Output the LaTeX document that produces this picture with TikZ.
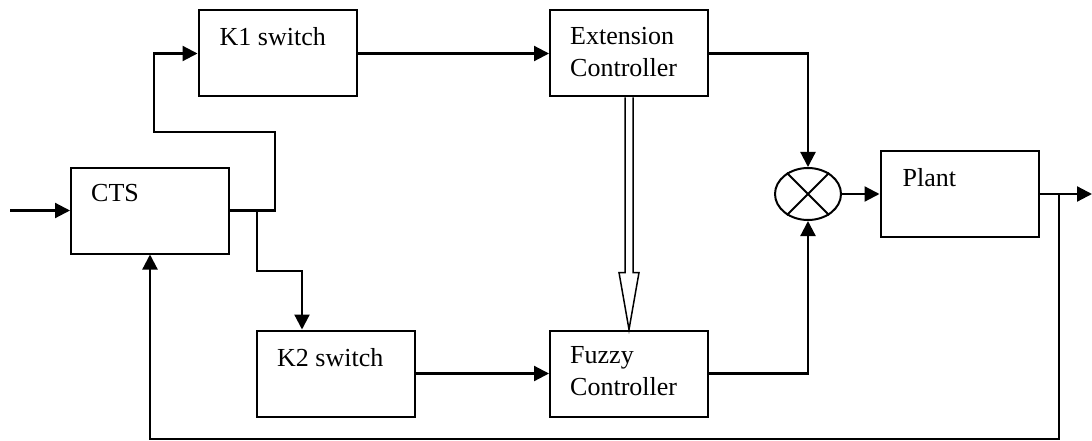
\documentclass[tikz,border=0pt]{standalone}
\usepackage{fontspec}
\setmainfont{Liberation Serif}
\usetikzlibrary{arrows.meta,calc,shapes.geometric}

\tikzset{
  blk/.style={draw, line width=2pt, minimum width=158pt, minimum height=86pt, inner sep=0pt},
  lbl/.style={anchor=base west, inner sep=0pt, align=left, font=\fontsize{26}{32}\selectfont},
  wire/.style={line width=2.2pt},
  flow/.style={wire, -{Triangle[length=15pt,width=15pt]}},
}

\begin{document}
\begin{tikzpicture}[x=1pt,y=-1pt]
  \useasboundingbox (0,0) rectangle (1092,441);

  % blocks
  \node[blk] (cts)   at (150,210.5) {};
  \node[blk] (k1)    at (277.5,53.5) {};
  \node[blk] (ext)   at (629,53.5) {};
  \node[blk] (k2)    at (336,373.5) {};
  \node[blk] (fz)    at (629,373.5) {};
  \node[blk] (plant) at (959.5,194) {};
  \node[draw, ellipse, line width=2pt, minimum width=66pt, minimum height=52pt, inner sep=0pt] (sum) at (808,194) {};
  \draw[line width=2pt] (sum.45) -- (sum.225) (sum.135) -- (sum.315);

  % block labels (base anchor sits on the last line)
  \node[lbl] at ($(cts.north west)+(21,35)$) {CTS};
  \node[lbl] at ($(k1.north west)+(22,36)$) {K1 switch};
  \node[lbl] at ($(ext.north west)+(21,67)$) {Extension\\Controller};
  \node[lbl] at ($(k2.north west)+(21,37)$) {K2 switch};
  \node[lbl] at ($(fz.north west)+(21,66)$) {Fuzzy\\Controller};
  \node[lbl] at ($(plant.north west)+(23,36)$) {Plant};

  % helper points
  \coordinate (inp) at (10,210.5);
  \coordinate (up1) at (275,132);
  \coordinate (up0) at (154,132);
  \coordinate (br0) at (257,210.5);
  \coordinate (br1) at (302,271);
  \coordinate (out) at (1092,194);
  \coordinate (fb0) at (1059,194);
  \coordinate (fb1) at (1059,439);

  % signal flow
  \draw[flow] (inp) -- (cts.west);
  \draw[flow] (cts.east) -| (up1) -- (up0) |- (k1.west);
  \draw[flow] (br0) |- (br1) -- (br1 |- k2.north);
  \draw[flow] (k1.east) -- (ext.west);
  \draw[flow] (k2.east) -- (fz.west);
  \draw[flow] (ext.east) -| (sum.north);
  \draw[flow] (fz.east) -| (sum.south);
  \draw[flow] (sum.east) -- (plant.west);
  \draw[flow] (plant.east) -- (out);
  \draw[flow] (fb0) -- (fb1) -| (cts.south);

  % hollow double arrow from the extension controller to the fuzzy controller
  \draw[line width=1.5pt, line join=miter]
    ($(ext.south)+(-4,0)$) -- ($(ext.south)+(-4,175)$) -- ($(ext.south)+(-10,175)$)
    -- (fz.north)
    -- ($(ext.south)+(10,175)$) -- ($(ext.south)+(4,175)$) -- ($(ext.south)+(4,0)$);
\end{tikzpicture}
\end{document}
